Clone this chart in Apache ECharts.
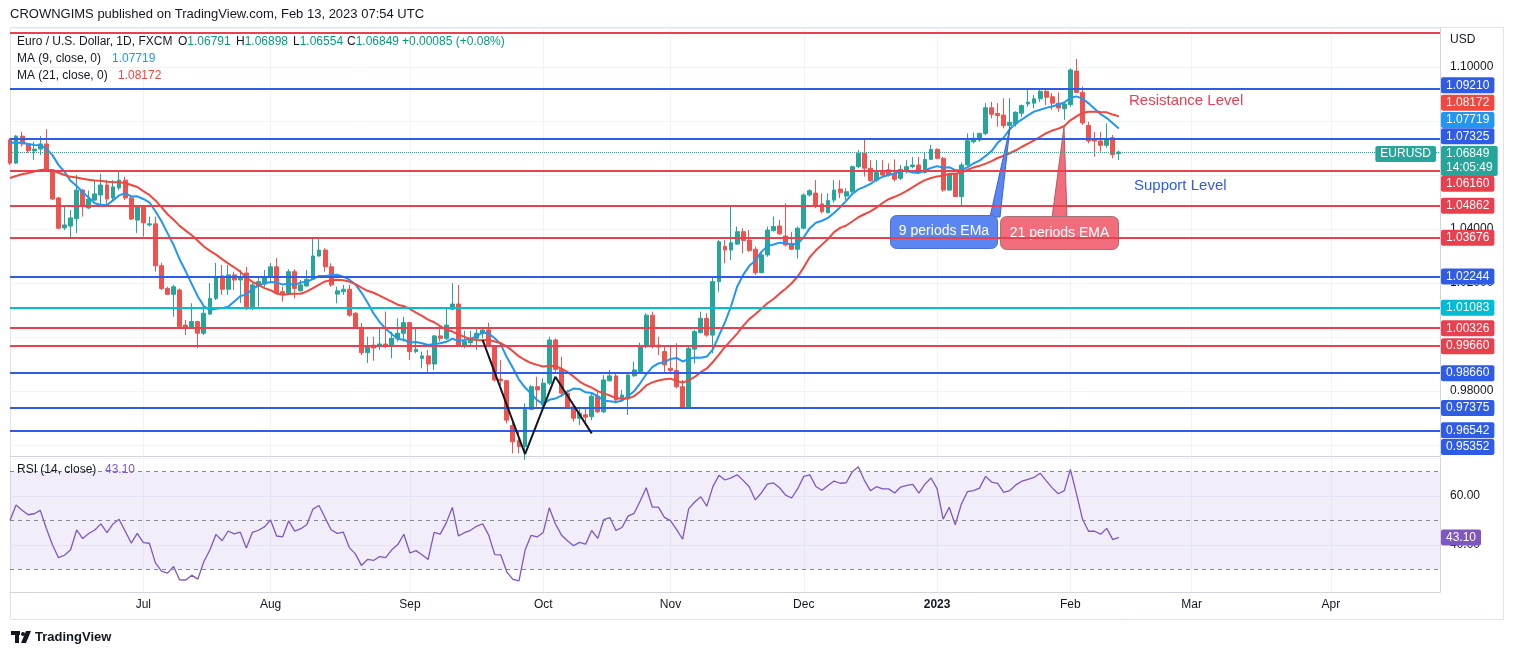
<!DOCTYPE html>
<html>
  <head>
    <meta charset="UTF-8" />
    <title>EURUSD 1D</title>
    <style>
      html, body { margin: 0; padding: 0; background: #ffffff; }
      #chart { width: 1514px; height: 655px; }
    </style>
    <script type="text/javascript" src="https://cdn.jsdelivr.net/npm/echarts@6.0.0/dist/echarts.min.js"></script>
  </head>
  <body>
    <div id="chart"></div>
    <script>
      // one candle per trading day from 2022-06-01: [open, close, low, high]
      var candles = [
        [1.0730, 1.0644, 1.0637, 1.0737], [1.0644, 1.0744, 1.0641, 1.0748], [1.0744, 1.0715, 1.0705, 1.0760],
        [1.0715, 1.0690, 1.0682, 1.0719], [1.0689, 1.0696, 1.0656, 1.0723], [1.0696, 1.0715, 1.0674, 1.0744],
        [1.0715, 1.0619, 1.0615, 1.0770], [1.0619, 1.0511, 1.0507, 1.0622], [1.0515, 1.0403, 1.0400, 1.0519],
        [1.0404, 1.0415, 1.0396, 1.0485], [1.0411, 1.0441, 1.0363, 1.0470], [1.0438, 1.0544, 1.0385, 1.0600],
        [1.0544, 1.0483, 1.0446, 1.0548], [1.0478, 1.0511, 1.0474, 1.0542], [1.0507, 1.0530, 1.0504, 1.0581],
        [1.0526, 1.0563, 1.0489, 1.0604], [1.0563, 1.0511, 1.0483, 1.0581], [1.0515, 1.0556, 1.0507, 1.0581],
        [1.0552, 1.0581, 1.0544, 1.0612], [1.0581, 1.0515, 1.0507, 1.0594], [1.0515, 1.0437, 1.0433, 1.0520],
        [1.0433, 1.0485, 1.0385, 1.0489], [1.0485, 1.0423, 1.0372, 1.0489], [1.0415, 1.0419, 1.0409, 1.0446],
        [1.0419, 1.0264, 1.0242, 1.0446], [1.0264, 1.0180, 1.0174, 1.0275], [1.0180, 1.0158, 1.0156, 1.0186],
        [1.0158, 1.0186, 1.0075, 1.0193], [1.0174, 1.0038, 1.0032, 1.0180], [1.0044, 1.0037, 1.0007, 1.0063],
        [1.0037, 1.0057, 1.0032, 1.0125], [1.0057, 1.0014, 0.9959, 1.0060], [1.0014, 1.0088, 1.0007, 1.0119],
        [1.0085, 1.0143, 1.0081, 1.0200], [1.0143, 1.0223, 1.0137, 1.0274], [1.0226, 1.0177, 1.0156, 1.0267],
        [1.0177, 1.0230, 1.0156, 1.0267], [1.0230, 1.0211, 1.0174, 1.0242], [1.0211, 1.0220, 1.0126, 1.0248],
        [1.0237, 1.0112, 1.0100, 1.0260], [1.0112, 1.0193, 1.0100, 1.0200], [1.0189, 1.0205, 1.0112, 1.0219],
        [1.0196, 1.0223, 1.0186, 1.0248], [1.0223, 1.0260, 1.0205, 1.0274], [1.0260, 1.0164, 1.0159, 1.0293],
        [1.0168, 1.0159, 1.0131, 1.0186], [1.0162, 1.0242, 1.0156, 1.0251], [1.0242, 1.0180, 1.0143, 1.0251],
        [1.0171, 1.0193, 1.0168, 1.0211], [1.0189, 1.0214, 1.0186, 1.0248], [1.0214, 1.0300, 1.0211, 1.0366],
        [1.0300, 1.0322, 1.0297, 1.0366], [1.0322, 1.0260, 1.0242, 1.0329], [1.0260, 1.0193, 1.0186, 1.0273],
        [1.0159, 1.0171, 1.0125, 1.0186], [1.0168, 1.0177, 1.0156, 1.0193], [1.0177, 1.0081, 1.0075, 1.0193],
        [1.0088, 1.0036, 1.0033, 1.0092], [1.0036, 0.9942, 0.9933, 1.0052], [0.9942, 0.9967, 0.9904, 1.0001],
        [0.9970, 0.9959, 0.9912, 1.0001], [0.9967, 0.9974, 0.9952, 1.0032], [0.9974, 0.9967, 0.9958, 1.0094],
        [0.9967, 0.9995, 0.9921, 1.0020], [0.9995, 1.0014, 0.9983, 1.0069], [1.0014, 1.0053, 0.9983, 1.0075],
        [1.0053, 0.9946, 0.9915, 1.0057], [0.9946, 0.9955, 0.9940, 1.0032], [0.9921, 0.9930, 0.9884, 0.9946],
        [0.9930, 0.9900, 0.9871, 0.9952], [0.9900, 1.0004, 0.9878, 1.0007], [1.0004, 0.9995, 0.9983, 1.0038],
        [0.9995, 1.0044, 0.9989, 1.0106], [1.0103, 1.0122, 1.0100, 1.0199], [1.0122, 0.9967, 0.9964, 1.0193],
        [0.9967, 0.9983, 0.9958, 1.0023], [0.9979, 0.9995, 0.9970, 1.0023], [0.9995, 1.0014, 0.9952, 1.0032],
        [1.0014, 1.0026, 0.9995, 1.0032], [1.0026, 0.9967, 0.9964, 1.0053], [0.9967, 0.9841, 0.9835, 0.9970],
        [0.9844, 0.9838, 0.9822, 0.9915], [0.9838, 0.9692, 0.9680, 0.9841], [0.9672, 0.9612, 0.9569, 0.9692],
        [0.9616, 0.9594, 0.9569, 0.9655], [0.9594, 0.9732, 0.9545, 0.9754], [0.9732, 0.9816, 0.9730, 0.9822],
        [0.9816, 0.9804, 0.9742, 0.9853], [0.9748, 0.9829, 0.9742, 0.9847], [0.9829, 0.9989, 0.9822, 1.0001],
        [0.9989, 0.9880, 0.9871, 0.9995], [0.9880, 0.9792, 0.9779, 0.9927], [0.9792, 0.9742, 0.9736, 0.9804],
        [0.9742, 0.9699, 0.9686, 0.9748], [0.9699, 0.9718, 0.9674, 0.9742], [0.9712, 0.9703, 0.9680, 0.9736],
        [0.9705, 0.9781, 0.9692, 0.9792], [0.9781, 0.9723, 0.9718, 0.9804], [0.9723, 0.9841, 0.9718, 0.9859],
        [0.9838, 0.9856, 0.9835, 0.9878], [0.9856, 0.9767, 0.9754, 0.9868], [0.9769, 0.9785, 0.9761, 0.9804],
        [0.9777, 0.9859, 0.9711, 0.9865], [0.9856, 0.9878, 0.9853, 0.9909], [0.9871, 0.9967, 0.9865, 0.9979],
        [0.9964, 1.0081, 0.9958, 1.0088], [1.0081, 0.9964, 0.9958, 1.0094], [0.9970, 0.9963, 0.9933, 1.0001],
        [0.9946, 0.9897, 0.9871, 0.9964], [0.9884, 0.9876, 0.9865, 0.9964], [0.9876, 0.9816, 0.9810, 0.9977],
        [0.9816, 0.9742, 0.9736, 0.9841], [0.9742, 0.9958, 0.9736, 0.9970], [0.9955, 1.0020, 0.9902, 1.0026],
        [1.0016, 1.0069, 1.0014, 1.0094], [1.0069, 1.0007, 1.0001, 1.0088], [1.0007, 1.0205, 0.9940, 1.0223],
        [1.0205, 1.0353, 1.0168, 1.0359], [1.0335, 1.0322, 1.0273, 1.0359], [1.0322, 1.0349, 1.0285, 1.0483],
        [1.0344, 1.0390, 1.0341, 1.0409], [1.0390, 1.0357, 1.0310, 1.0403], [1.0359, 1.0320, 1.0316, 1.0396],
        [1.0325, 1.0238, 1.0230, 1.0335], [1.0238, 1.0304, 1.0236, 1.0310], [1.0304, 1.0396, 1.0297, 1.0409],
        [1.0394, 1.0409, 1.0390, 1.0446], [1.0411, 1.0382, 1.0378, 1.0433], [1.0374, 1.0341, 1.0335, 1.0495],
        [1.0347, 1.0325, 1.0322, 1.0390], [1.0325, 1.0403, 1.0291, 1.0409], [1.0403, 1.0526, 1.0399, 1.0532],
        [1.0526, 1.0542, 1.0520, 1.0547], [1.0533, 1.0483, 1.0477, 1.0581], [1.0493, 1.0464, 1.0458, 1.0532],
        [1.0460, 1.0505, 1.0459, 1.0532], [1.0507, 1.0544, 1.0497, 1.0581], [1.0548, 1.0534, 1.0514, 1.0581],
        [1.0522, 1.0538, 1.0507, 1.0551], [1.0538, 1.0631, 1.0532, 1.0635], [1.0631, 1.0681, 1.0625, 1.0693],
        [1.0681, 1.0625, 1.0594, 1.0732], [1.0625, 1.0579, 1.0575, 1.0655], [1.0581, 1.0609, 1.0575, 1.0655],
        [1.0612, 1.0600, 1.0594, 1.0655], [1.0619, 1.0600, 1.0594, 1.0643], [1.0606, 1.0584, 1.0575, 1.0658],
        [1.0588, 1.0621, 1.0581, 1.0637], [1.0612, 1.0631, 1.0606, 1.0655], [1.0631, 1.0637, 1.0625, 1.0667],
        [1.0637, 1.0609, 1.0606, 1.0667], [1.0609, 1.0658, 1.0606, 1.0686], [1.0658, 1.0695, 1.0655, 1.0711],
        [1.0695, 1.0662, 1.0658, 1.0699], [1.0662, 1.0544, 1.0538, 1.0667], [1.0544, 1.0604, 1.0542, 1.0606],
        [1.0604, 1.0520, 1.0518, 1.0606], [1.0520, 1.0637, 1.0485, 1.0646], [1.0637, 1.0727, 1.0634, 1.0754],
        [1.0723, 1.0736, 1.0717, 1.0757], [1.0730, 1.0754, 1.0723, 1.0757], [1.0754, 1.0849, 1.0748, 1.0866],
        [1.0849, 1.0825, 1.0810, 1.0871], [1.0828, 1.0820, 1.0779, 1.0866], [1.0822, 1.0783, 1.0773, 1.0884],
        [1.0783, 1.0795, 1.0773, 1.0884], [1.0789, 1.0832, 1.0779, 1.0836], [1.0829, 1.0857, 1.0816, 1.0861],
        [1.0863, 1.0870, 1.0853, 1.0921], [1.0866, 1.0882, 1.0847, 1.0896], [1.0882, 1.0910, 1.0871, 1.0921],
        [1.0910, 1.0888, 1.0859, 1.0921], [1.0890, 1.0866, 1.0841, 1.0903], [1.0866, 1.0848, 1.0834, 1.0906],
        [1.0845, 1.0863, 1.0804, 1.0871], [1.0861, 1.0989, 1.0853, 1.0995], [1.0985, 1.0906, 1.0903, 1.1030],
        [1.0906, 1.0793, 1.0785, 1.0927], [1.0784, 1.0726, 1.0717, 1.0797], [1.0735, 1.0726, 1.0668, 1.0760],
        [1.0726, 1.0710, 1.0686, 1.0760], [1.0710, 1.0735, 1.0701, 1.0791], [1.0738, 1.0676, 1.0662, 1.0748],
        [1.06791, 1.06849, 1.06554, 1.06898]
      ];

      var firstDay = "2022-06-01";
      var dayCount = 237; // trading days on the axis, the tail is empty space
      var monthNames = ["Jan", "Feb", "Mar", "Apr", "May", "Jun", "Jul", "Aug", "Sep", "Oct", "Nov", "Dec"];
      var priceTicks = [0.98, 1.02, 1.04, 1.10]; // price labels left visible by the badges
      var rsiTicks = [40, 60];
      var rsiBands = [70, 50, 30];

      // indicator values at the first visible candle
      var maStart = [1.0719, 1.0589];
      var rsiStart = 50;

      // horizontal levels drawn on the chart
      var levels = [1.11260, 1.09210, 1.07325, 1.06160, 1.04862, 1.03676, 1.02244, 1.01083, 1.00326, 0.99660, 0.98660, 0.97375, 0.96542, 0.95352];
      var levelColors = ["#e8404f", "#2e5ce6", "#2e5ce6", "#e8404f", "#e8404f", "#e8404f", "#2e5ce6", "#00bcd4", "#e8404f", "#e8404f", "#2e5ce6", "#2e5ce6", "#2e5ce6", "#2e5ce6"];
      // double bottom pattern: [candle index, price]
      var pattern = [[78, 0.9989], [85, 0.9566], [90, 0.9853], [96, 0.9643]];

      var lastPrice = 1.06849;
      var countdown = "14:05:49";
      var maValues = [1.07719, 1.08172]; // as printed on the chart
      var rsiValue = 43.10;

      var PRICE_MIN = 0.955926, PRICE_MAX = 1.114444;
      var FONT = "Liberation Sans, Arial, sans-serif";
      var UP = "#26a69a", DOWN = "#ef5350";
      var MA9_COLOR = "#2196f3", MA21_COLOR = "#f0473f", RSI_COLOR = "#7e57c2";
      var CLEAR = "rgba(0,0,0,0)";

      // label nudges in px so that badges do not overlap, like the price scale does
      var badgeShift = { "1.09210": -3, "1.07325": -3, "1.06160": 13 };

      function tradingDays(start, n) {
        var d = new Date(start + "T00:00:00Z"), out = [];
        while (out.length < n) {
          var wd = d.getUTCDay();
          if (wd !== 0 && wd !== 6) out.push(d.toISOString().slice(0, 10));
          d.setUTCDate(d.getUTCDate() + 1);
        }
        return out;
      }
      var dates = tradingDays(firstDay, dayCount);
      var closes = candles.map(function (c) { return c[1]; });

      function isMonthStart(i) {
        return i > 0 && dates[i].slice(5, 7) !== dates[i - 1].slice(5, 7);
      }

      // simple moving average; the closes before the first candle are taken
      // as one flat value that gives the start value seen on the picture
      function movingAverage(n, start) {
        var pre = (n * start - closes[0]) / (n - 1);
        return closes.map(function (c, i) {
          var from = Math.max(0, i - n + 1), sum = 0;
          for (var k = from; k <= i; k++) sum += closes[k];
          sum += (n - 1 - (i - from)) * pre;
          return +(sum / n).toFixed(5);
        });
      }

      // Wilder RSI, the averages are seeded so the first point sits at rsiStart
      function rsi(n) {
        var m = 0;
        for (var j = 1; j <= n; j++) m += Math.abs(closes[j] - closes[j - 1]);
        m = m / n;
        var ag = m * rsiStart / 100, al = m * (1 - rsiStart / 100);
        var out = [rsiStart];
        for (var i = 1; i < closes.length; i++) {
          var ch = closes[i] - closes[i - 1];
          ag = (ag * (n - 1) + Math.max(ch, 0)) / n;
          al = (al * (n - 1) + Math.max(-ch, 0)) / n;
          out.push(al === 0 ? 100 : +(100 - 100 / (1 + ag / al)).toFixed(2));
        }
        return out;
      }

      function badge(color, text, dy) {
        return {
          show: true, position: "end", distance: 1, formatter: text,
          color: "#ffffff", fontSize: 12, fontFamily: FONT, lineHeight: 14,
          padding: [1, 5, 1, 5], borderRadius: 2, backgroundColor: color,
          offset: [0, dy || 0]
        };
      }

      var lineItems = [];
      levels.forEach(function (v, i) {
        var key = v.toFixed(5);
        if (v > PRICE_MAX - 0.002) {
          // top line, its badge is off the scale
          lineItems.push({ yAxis: v, lineStyle: { color: levelColors[i], width: 2, type: "solid" }, label: { show: false } });
        } else if (v < PRICE_MIN) {
          // below the pane: only the badge, held at the bottom edge
          lineItems.push({ yAxis: PRICE_MIN, lineStyle: { color: CLEAR }, label: badge(levelColors[i], key, -9) });
        } else {
          lineItems.push({ yAxis: v, lineStyle: { color: levelColors[i], width: 2, type: "solid" }, label: badge(levelColors[i], key, badgeShift[key]) });
        }
      });

      // last price: dotted line, price badge with countdown, symbol tag
      lineItems.push({
        yAxis: lastPrice,
        lineStyle: { color: UP, width: 1, type: "dotted" },
        label: badge(UP, lastPrice.toFixed(5) + "\n" + countdown, 9)
      });
      lineItems.push({
        yAxis: lastPrice,
        lineStyle: { color: CLEAR },
        label: {
          show: true, position: "insideEndTop", distance: 2, formatter: "EURUSD",
          color: "#ffffff", fontSize: 12, fontFamily: FONT, lineHeight: 14,
          padding: [1, 5, 1, 5], borderRadius: 2, backgroundColor: UP, offset: [-2, 12]
        }
      });
      // moving average badges
      lineItems.push({ yAxis: maValues[1], lineStyle: { color: CLEAR }, label: badge(MA21_COLOR, maValues[1].toFixed(5), -13.5) });
      lineItems.push({ yAxis: maValues[0], lineStyle: { color: CLEAR }, label: badge(MA9_COLOR, maValues[0].toFixed(5), -8.5) });

      // pattern segments
      for (var k = 0; k < pattern.length - 1; k++) {
        var seg = { color: "#131722", width: 2, type: "solid" };
        lineItems.push([
          { coord: [dates[pattern[k][0]], pattern[k][1]], lineStyle: seg, label: { show: false } },
          { coord: [dates[pattern[k + 1][0]], pattern[k + 1][1]], lineStyle: seg, label: { show: false } }
        ]);
      }

      var rsiItems = rsiBands.map(function (v) {
        return { yAxis: v, lineStyle: { color: "#868993", width: 1, type: [4, 4] }, label: { show: false } };
      });
      rsiItems.push({ yAxis: rsiValue, lineStyle: { color: CLEAR }, label: badge(RSI_COLOR, rsiValue.toFixed(2), 0) });

      var monthSplit = function (i) { return isMonthStart(i); };
      var axisText = { color: "#131722", fontSize: 12, fontFamily: FONT };

      var chart = echarts.init(document.getElementById("chart"));
      var option = {
        animation: false,
        backgroundColor: "#ffffff",
        grid: [
          { left: 10, right: 74, top: 28, height: 428 },
          { left: 10, right: 74, top: 458, height: 134 }
        ],
        xAxis: [
          {
            type: "category", gridIndex: 0, data: dates, boundaryGap: false,
            axisLine: { show: true, lineStyle: { color: "#d1d4dc" } },
            axisTick: { show: false }, axisLabel: { show: false },
            splitLine: { show: true, interval: monthSplit, lineStyle: { color: "#f0f3fa" } }
          },
          {
            type: "category", gridIndex: 1, data: dates, boundaryGap: false,
            axisLine: { show: true, lineStyle: { color: "#d1d4dc" } },
            axisTick: { show: false },
            axisLabel: {
              interval: monthSplit, margin: 7, color: "#131722", fontSize: 12, fontFamily: FONT,
              formatter: function (v) {
                var m = +v.slice(5, 7) - 1;
                return m === 0 ? "{y|" + v.slice(0, 4) + "}" : monthNames[m];
              },
              rich: { y: { fontWeight: "bold", fontSize: 12, fontFamily: FONT, color: "#131722" } }
            },
            splitLine: { show: true, interval: monthSplit, lineStyle: { color: "#f0f3fa" } }
          }
        ],
        yAxis: [
          {
            type: "value", gridIndex: 0, position: "right", min: PRICE_MIN, max: PRICE_MAX, splitNumber: 8,
            axisLine: { show: true, lineStyle: { color: "#d1d4dc" } },
            axisTick: { show: false },
            axisLabel: Object.assign({
              customValues: priceTicks, margin: 10,
              formatter: function (v) { return v.toFixed(5); }
            }, axisText),
            splitLine: { show: true, lineStyle: { color: "#f0f3fa" } }
          },
          {
            type: "value", gridIndex: 1, position: "right", min: 20.82, max: 75.51, splitNumber: 3,
            axisLine: { show: true, lineStyle: { color: "#d1d4dc" } },
            axisTick: { show: false },
            axisLabel: Object.assign({
              customValues: rsiTicks, margin: 10,
              formatter: function (v) { return v.toFixed(2); }
            }, axisText),
            splitLine: { show: true, lineStyle: { color: "#f0f3fa" } }
          }
        ],
        series: [
          {
            name: "EURUSD", type: "candlestick", xAxisIndex: 0, yAxisIndex: 0,
            data: candles, barWidth: "72%",
            itemStyle: { color: UP, color0: DOWN, borderColor: UP, borderColor0: DOWN, borderWidth: 1 }
          },
          {
            name: "MA 9", type: "line", xAxisIndex: 0, yAxisIndex: 0, data: movingAverage(9, maStart[0]),
            symbol: "none", lineStyle: { color: MA9_COLOR, width: 2 }, z: 3
          },
          {
            name: "MA 21", type: "line", xAxisIndex: 0, yAxisIndex: 0, data: movingAverage(21, maStart[1]),
            symbol: "none", lineStyle: { color: MA21_COLOR, width: 2 }, z: 3
          },
          {
            name: "levels", type: "line", xAxisIndex: 0, yAxisIndex: 0, data: [], clip: false, z: 5,
            markLine: { symbol: ["none", "none"], precision: 5, silent: true, animation: false, emphasis: { disabled: true }, data: lineItems }
          },
          {
            name: "RSI", type: "line", xAxisIndex: 1, yAxisIndex: 1, data: rsi(14),
            symbol: "none", lineStyle: { color: RSI_COLOR, width: 1.3 },
            markArea: { silent: true, itemStyle: { color: "rgba(126,87,194,0.1)" }, data: [[{ yAxis: 70 }, { yAxis: 30 }]] },
            markLine: { symbol: ["none", "none"], precision: 2, silent: true, animation: false, emphasis: { disabled: true }, data: rsiItems }
          }
        ],
        graphic: [
          { type: "rect", silent: true, z: 0, shape: { x: 10.5, y: 27.5, width: 1493, height: 592 }, style: { fill: "none", stroke: "#e0e3eb", lineWidth: 1 } },
          { type: "text", x: 10, y: 14, style: { text: "CROWNGIMS published on TradingView.com, Feb 13, 2023 07:54 UTC", fill: "#131722", fontSize: 13, fontFamily: FONT, verticalAlign: "middle" } },
          // legend
          { type: "text", x: 17, y: 42, z: 20, style: { text: "Euro / U.S. Dollar, 1D, FXCM", fill: "#131722", fontSize: 12, fontFamily: FONT, verticalAlign: "middle" } },
          { type: "text", x: 178, y: 42, z: 20, style: { text: "{k|O}{v|1.06791}", rich: { k: { fill: "#131722", fontSize: 12, fontFamily: FONT }, v: { fill: "#089981", fontSize: 12, fontFamily: FONT } }, verticalAlign: "middle" } },
          { type: "text", x: 236, y: 42, z: 20, style: { text: "{k|H}{v|1.06898}", rich: { k: { fill: "#131722", fontSize: 12, fontFamily: FONT }, v: { fill: "#089981", fontSize: 12, fontFamily: FONT } }, verticalAlign: "middle" } },
          { type: "text", x: 293, y: 42, z: 20, style: { text: "{k|L}{v|1.06554}", rich: { k: { fill: "#131722", fontSize: 12, fontFamily: FONT }, v: { fill: "#089981", fontSize: 12, fontFamily: FONT } }, verticalAlign: "middle" } },
          { type: "text", x: 347, y: 42, z: 20, style: { text: "{k|C}{v|1.06849}", rich: { k: { fill: "#131722", fontSize: 12, fontFamily: FONT }, v: { fill: "#089981", fontSize: 12, fontFamily: FONT } }, verticalAlign: "middle" } },
          { type: "text", x: 402, y: 42, z: 20, style: { text: "+0.00085 (+0.08%)", fill: "#089981", fontSize: 12, fontFamily: FONT, verticalAlign: "middle" } },
          { type: "text", x: 17, y: 59, z: 20, style: { text: "MA (9, close, 0)", fill: "#131722", fontSize: 12, fontFamily: FONT, verticalAlign: "middle" } },
          { type: "text", x: 112, y: 59, z: 20, style: { text: maValues[0].toFixed(5), fill: MA9_COLOR, fontSize: 12, fontFamily: FONT, verticalAlign: "middle" } },
          { type: "text", x: 17, y: 76, z: 20, style: { text: "MA (21, close, 0)", fill: "#131722", fontSize: 12, fontFamily: FONT, verticalAlign: "middle" } },
          { type: "text", x: 118, y: 76, z: 20, style: { text: maValues[1].toFixed(5), fill: MA21_COLOR, fontSize: 12, fontFamily: FONT, verticalAlign: "middle" } },
          { type: "text", x: 17, y: 470, z: 20, style: { text: "RSI (14, close)", fill: "#131722", fontSize: 12, fontFamily: FONT, verticalAlign: "middle" } },
          { type: "text", x: 105, y: 470, z: 20, style: { text: rsiValue.toFixed(2), fill: RSI_COLOR, fontSize: 12, fontFamily: FONT, verticalAlign: "middle" } },
          { type: "text", x: 1450, y: 40, style: { text: "USD", fill: "#131722", fontSize: 12, fontFamily: FONT, verticalAlign: "middle" } },
          // annotations, kept under the level lines
          { type: "text", x: 1129, y: 101, z: 20, style: { text: "Resistance Level", fill: "#e8404f", fontSize: 15, fontFamily: FONT, verticalAlign: "middle" } },
          { type: "text", x: 1134, y: 186, z: 20, style: { text: "Support Level", fill: "#2e5ce6", fontSize: 15, fontFamily: FONT, verticalAlign: "middle" } },
          { type: "polygon", z: 4, shape: { points: [[990, 217], [1000, 217], [1010, 127]] }, style: { fill: "#5b86f2", stroke: "#3f62d0", lineWidth: 1 } },
          { type: "rect", z: 4, z2: 1, shape: { x: 890.5, y: 215.5, width: 107, height: 33, r: 6 }, style: { fill: "#5b86f2", stroke: "#4a6fda" } },
          { type: "text", z: 4, z2: 2, x: 944, y: 231, style: { text: "9 periods EMa", fill: "#ffffff", fontSize: 14, fontFamily: FONT, align: "center", verticalAlign: "middle" } },
          { type: "polygon", z: 4, shape: { points: [[1052, 218], [1067, 218], [1064, 127]] }, style: { fill: "#f26d7b", stroke: "#b85a66", lineWidth: 1 } },
          { type: "rect", z: 4, z2: 1, shape: { x: 1000.5, y: 216.5, width: 118, height: 33, r: 6 }, style: { fill: "#f26d7b", stroke: "#a3737b" } },
          { type: "text", z: 4, z2: 2, x: 1059.5, y: 233, style: { text: "21 periods EMA", fill: "#ffffff", fontSize: 14, fontFamily: FONT, align: "center", verticalAlign: "middle" } },
          // footer logo
          { type: "rect", shape: { x: 11, y: 631, width: 9, height: 4 }, style: { fill: "#131722" } },
          { type: "rect", shape: { x: 15, y: 631, width: 4, height: 12 }, style: { fill: "#131722" } },
          { type: "circle", shape: { cx: 23, cy: 634, r: 2 }, style: { fill: "#131722" } },
          { type: "polygon", shape: { points: [[26, 631], [31, 631], [26, 643], [21, 643]] }, style: { fill: "#131722" } },
          { type: "text", x: 35, y: 637, style: { text: "TradingView", fill: "#131722", fontSize: 13, fontWeight: "bold", fontFamily: FONT, verticalAlign: "middle" } }
        ]
      };
      chart.setOption(option);
    </script>
  </body>
</html>
